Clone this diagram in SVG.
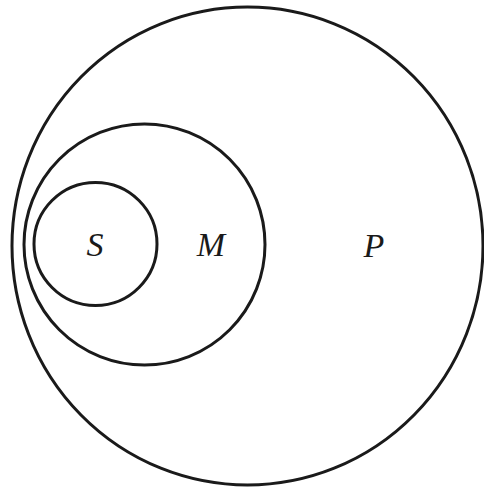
<svg xmlns="http://www.w3.org/2000/svg" width="484" height="489" viewBox="0 0 484 489">
<style>
.c{fill:none;stroke:#1a1a1a;stroke-width:3}
.t{font-family:"Liberation Serif",serif;font-style:italic;font-size:34px;fill:#1a1a1a;text-anchor:middle}
</style>
<rect width="484" height="489" fill="#fff"/>
<g id="P">
<ellipse class="c" cx="247.5" cy="246" rx="235.5" ry="239"/>
<text class="t" x="374" y="257">P</text>
</g>
<g id="M">
<circle class="c" cx="144.5" cy="244.5" r="120.5"/>
<text class="t" x="211" y="256">M</text>
</g>
<g id="S">
<circle class="c" cx="95.5" cy="244" r="61.5"/>
<text class="t" x="95" y="256">S</text>
</g>
<g id="connectors"></g>
</svg>
